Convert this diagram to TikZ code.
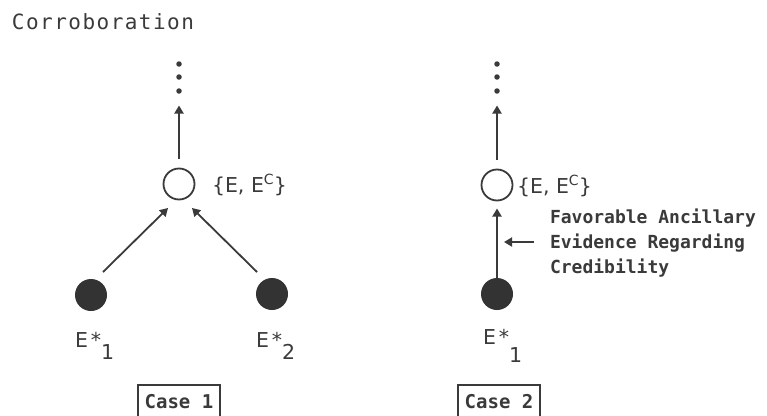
\documentclass[tikz,border=0pt]{standalone}
\usepackage{fontspec}
\setmainfont{DejaVu Sans}
\newfontfamily\monofont{DejaVu Sans Mono}
\usetikzlibrary{arrows.meta}
\definecolor{ink}{HTML}{3A3A3A}
\definecolor{inkfill}{HTML}{333333}
\begin{document}
\begin{tikzpicture}[x=1pt,y=-1pt,
  every node/.style={inner sep=0pt, outer sep=0pt, text=ink},
  conn/.style={draw=ink, line width=1.8pt, -{Triangle[length=8pt,width=9pt]}},
  opennode/.style={circle, draw=ink, line width=1.8pt, minimum size=31pt},
  evnode/.style={circle, fill=inkfill, minimum size=32pt},
  dotnode/.style={circle, fill=ink, minimum size=5.5pt},
  lab/.style={font=\fontsize{20.5}{24}\selectfont, anchor=base west},
  boldtxt/.style={font=\monofont\bfseries\fontsize{18}{25}\selectfont},
  casebox/.style={font=\monofont\bfseries\fontsize{19}{25}\selectfont, draw=ink, line width=1.5pt, anchor=north, minimum width=82pt, text height=23pt, text depth=16pt}
]
\useasboundingbox (0,0) rectangle (767,415);
\fill[white] (0,0) rectangle (767,415);

% title
\node[anchor=base west, font=\monofont\addfontfeatures{LetterSpace=7}\fontsize{21}{24}\selectfont] (title) at (12,29) {Corroboration};

% ---------- Case 1 ----------
\node[dotnode] (d11) at (179,64) {};
\node[dotnode] (d12) at (179,77) {};
\node[dotnode] (d13) at (179,91) {};
\node[opennode] (c1) at (179,184) {};
\node[lab] (c1lab) at (212,192) {\{E, E\raisebox{8pt}{\fontsize{14}{14}\selectfont C}\}};
\node[evnode] (l1) at (91,295) {};
\node[evnode] (r1) at (272,294) {};
\node[lab] (l1lab) at (75,347) {E\kern3pt*\raisebox{-12pt}{1}};
\node[lab] (r1lab) at (256,347) {E\kern3pt*\raisebox{-12pt}{2}};
\node[casebox] (case1) at (179,385) {Case 1};

\draw[conn, shorten <=10pt, shorten >=14.5pt] (c1.north) -- (d13.center);
\draw[conn] ([shift={(12,-23)}]l1.center) -- ([shift={(-11,24)}]c1.center);
\draw[conn] ([shift={(-15,-22)}]r1.center) -- ([shift={(13,24)}]c1.center);

% ---------- Case 2 ----------
\node[dotnode] (d21) at (497,64) {};
\node[dotnode] (d22) at (497,77) {};
\node[dotnode] (d23) at (497,91) {};
\node[opennode] (c2) at (497,185) {};
\node[lab] (c2lab) at (517,193) {\{E, E\raisebox{8pt}{\fontsize{14}{14}\selectfont C}\}};
\node[evnode] (e2) at (497,294) {};
\node[lab] (e2lab) at (483,344) {E\kern3pt*\raisebox{-18pt}{1}};
\node[casebox] (case2) at (499,385) {Case 2};

\draw[conn, shorten <=10pt, shorten >=14.5pt] (c2.north) -- (d23.center);
\draw[conn, shorten >=8pt] (e2.north) -- (c2.south);

\node[boldtxt, anchor=north west, align=left] (anc) at (550,209)
  {Favorable Ancillary\\Evidence Regarding\\Credibility};
\coordinate (h1) at (534,242);
\coordinate (h2) at (504,242);
\draw[conn] (h1) -- (h2);
\end{tikzpicture}
\end{document}
